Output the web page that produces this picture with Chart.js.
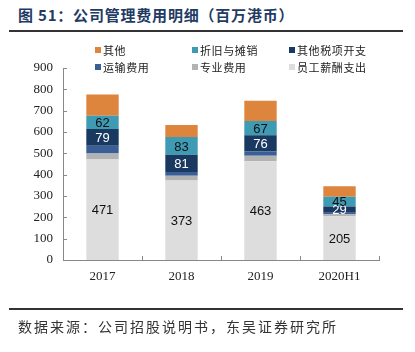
<!DOCTYPE html>
<html>
<head>
<meta charset="utf-8">
<script src="https://cdn.jsdelivr.net/npm/chart.js@4.4.0/dist/chart.umd.min.js"></script>
<style>
  html, body { margin: 0; padding: 0; background: #fff; }
  #page { position: relative; width: 415px; height: 352px; overflow: hidden; font-family: "Noto Sans CJK SC", sans-serif; }
  #title { position: absolute; left: 18px; top: 4px; font-size: 15px; font-weight: bold; color: #1f3b63; letter-spacing: 0.8px; white-space: nowrap; }
  .rule { position: absolute; left: 9px; width: 394px; height: 2px; background: #333; }
  #wrap { position: absolute; left: 0; top: 0; width: 415px; height: 352px; }
  #legend { position: absolute; left: 0; top: 0; }
  .item { position: absolute; font-size: 11px; color: #222; letter-spacing: 0.6px; white-space: nowrap; line-height: 14px; }
  .box { position: absolute; width: 6px; height: 6px; }
  #source { position: absolute; left: 18px; top: 316px; font-size: 14px; color: #333; letter-spacing: 2px; white-space: nowrap; }
</style>
</head>
<body>
<div id="page">
  <div id="title">图 51：公司管理费用明细（百万港币）</div>
  <div class="rule" style="top: 30px;"></div>
  <div id="wrap"><canvas id="chart" width="415" height="352"></canvas></div>
  <div id="legend"></div>
  <div class="rule" style="top: 308px;"></div>
  <div id="source">数据来源：公司招股说明书，东吴证券研究所</div>
</div>
<script>
// categories
const years = ["2017", "2018", "2019", "2020H1"];

// series, bottom of the stack first
const seriesNames = ["员工薪酬支出", "专业费用", "运输费用", "其他税项开支", "折旧与摊销", "其他"];
const staffCost = [471, 373, 463, 205];
const professionalFee = [28, 22, 26, 9];
const transportFee = [36, 17, 20, 8];
const otherTax = [79, 81, 76, 29];
const depreciation = [62, 83, 67, 45];
const others = [100, 57, 95, 50];

const yTicks = [0, 100, 200, 300, 400, 500, 600, 700, 800, 900];

const colors = ["#dddddd", "#b3b3b3", "#3a5f96", "#1a3961", "#3f9ab4", "#de853d"];
// which series get a number printed inside, and in what colour
const labelColors = ["#111", null, null, "#fff", "#111", null];

const seriesValues = [staffCost, professionalFee, transportFee, otherTax, depreciation, others];

// legend, drawn as html: 3 columns x 2 rows, reverse stack order
const legendEl = document.getElementById("legend");
const colX = [95, 192, 289];
const rowY = [50, 67];
for (let k = 0; k < 6; k++) {
    const s = 5 - k;
    const col = k % 3;
    const row = Math.floor(k / 3);
    const box = document.createElement("div");
    box.className = "box";
    box.style.left = colX[col] + "px";
    box.style.top = (rowY[row] - 3) + "px";
    box.style.background = colors[s];
    legendEl.appendChild(box);
    const txt = document.createElement("div");
    txt.className = "item";
    txt.style.left = (colX[col] + 8) + "px";
    txt.style.top = (rowY[row] - 7) + "px";
    txt.textContent = seriesNames[s];
    legendEl.appendChild(txt);
}

// numbers inside the bars + inward tick marks
const extras = {
    id: "extras",
    afterDatasetsDraw(chart) {
        const ctx = chart.ctx;
        ctx.save();
        ctx.font = "13px 'Liberation Sans', Arial, sans-serif";
        ctx.textAlign = "center";
        ctx.textBaseline = "middle";
        chart.data.datasets.forEach((ds, i) => {
            if (!labelColors[i]) return;
            const meta = chart.getDatasetMeta(i);
            meta.data.forEach((bar, j) => {
                ctx.fillStyle = labelColors[i];
                ctx.fillText(String(ds.data[j]), bar.x, (bar.y + bar.base) / 2 + 1);
            });
        });

        const x = chart.scales.x;
        const y = chart.scales.y;
        const area = chart.chartArea;
        ctx.strokeStyle = "#888";
        ctx.lineWidth = 1;
        ctx.beginPath();
        yTicks.forEach((v) => {
            const py = Math.round(y.getPixelForValue(v)) + 0.5;
            ctx.moveTo(area.left, py);
            ctx.lineTo(area.left + 4, py);
        });
        for (let i = 0; i < years.length; i++) {
            const px = Math.round(x.getPixelForValue(i + 0.5)) + 0.5;
            ctx.moveTo(px, area.bottom);
            ctx.lineTo(px, area.bottom - 4);
        }
        ctx.stroke();
        ctx.restore();
    }
};

const ctx = document.getElementById("chart").getContext("2d");
new Chart(ctx, {
    type: "bar",
    data: {
        labels: years,
        datasets: seriesNames.map((name, i) => ({
            label: name,
            data: seriesValues[i],
            backgroundColor: colors[i],
            borderWidth: 0,
            stack: "Stack 0",
            barPercentage: 0.82,
            categoryPercentage: 0.5,
        })),
    },
    options: {
        responsive: false,
        animation: false,
        devicePixelRatio: 1,
        layout: {
            padding: { left: 0, top: 68, right: 36, bottom: 52 },
        },
        plugins: {
            legend: { display: false },
            tooltip: { enabled: false },
            title: { display: false },
        },
        scales: {
            x: {
                stacked: true,
                offset: true,
                grid: { display: false, drawTicks: false },
                border: { display: true, color: "#888", width: 1 },
                ticks: {
                    color: "#222",
                    padding: 9,
                    font: { family: "'Liberation Serif', 'Times New Roman', serif", size: 13 },
                },
                afterFit(scale) { scale.height = 40; },
            },
            y: {
                stacked: true,
                min: 0,
                max: 900,
                grid: { display: false, drawTicks: false },
                border: { display: true, color: "#888", width: 1 },
                ticks: {
                    stepSize: 100,
                    color: "#222",
                    padding: 10,
                    font: { family: "'Liberation Serif', 'Times New Roman', serif", size: 13 },
                },
                afterFit(scale) { scale.width = 63; },
            },
        },
    },
    plugins: [extras],
});
</script>
</body>
</html>
